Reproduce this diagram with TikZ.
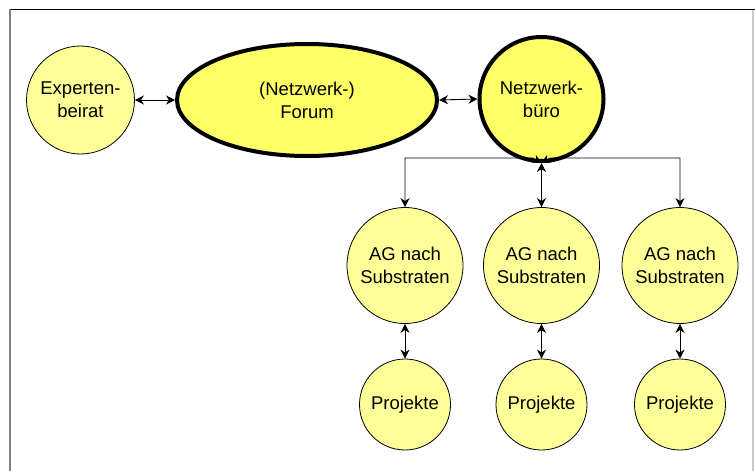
\documentclass[tikz,border=0pt]{standalone}
\usepackage{fontspec}
\setmainfont{Liberation Sans}
\usetikzlibrary{arrows.meta,shapes.geometric}
\definecolor{lightY}{HTML}{FFFF99}
\definecolor{strongY}{HTML}{FFFF66}
\begin{document}
\begin{tikzpicture}[x=1pt,y=-1pt,
  every node/.style={font=\fontsize{18.5}{23}\selectfont, align=center, inner sep=0pt},
  thin circ/.style={circle, draw=black, line width=0.8pt, fill=lightY},
  thick circ/.style={circle, draw=black, line width=4pt, fill=strongY},
  conn/.style={line width=0.9pt, {Stealth[length=9pt,width=9pt]}-{Stealth[length=9pt,width=9pt]}}]
\useasboundingbox (0,0) rectangle (755,471);
% frame
\draw[black, line width=1pt] (10,9) -- (755,9);
\draw[gray, line width=2pt] (10,9) -- (10,471);
\draw[gray!40, line width=1.5pt] (753,10) -- (753,471);
% nodes
\node[thin circ, minimum size=108pt] (exp) at (80.5,100) {Experten-\\beirat};
\node[thick circ, ellipse, minimum width=260pt, minimum height=112pt] (forum) at (307,100) {(Netzwerk-)\\Forum};
\node[thick circ, minimum size=124pt] (buero) at (541.5,99) {Netzwerk-\\büro};
\node[thin circ, minimum size=116pt] (ag1) at (405,265.5) {AG nach\\Substraten};
\node[thin circ, minimum size=116pt] (ag2) at (541.5,265.5) {AG nach\\Substraten};
\node[thin circ, minimum size=116pt] (ag3) at (680,265.5) {AG nach\\Substraten};
\node[thin circ, minimum size=91pt] (p1) at (405,404.5) {Projekte};
\node[thin circ, minimum size=91pt] (p2) at (541.5,404.5) {Projekte};
\node[thin circ, minimum size=91pt] (p3) at (680,404.5) {Projekte};
% connectors
\draw[conn] (exp.east) -- (forum.west);
\draw[conn] (forum.east) -- (buero.west);
\draw[conn] (ag1.north) |- ([xshift=-9pt,yshift=5pt]buero.south) -- (buero.south);
\draw[conn] (ag3.north) |- ([xshift=9pt,yshift=5pt]buero.south) -- (buero.south);
\draw[conn] (ag2.north) -- (buero.south);
\draw[conn] (ag1.south) -- (p1.north);
\draw[conn] (ag2.south) -- (p2.north);
\draw[conn] (ag3.south) -- (p3.north);
\end{tikzpicture}
\end{document}
